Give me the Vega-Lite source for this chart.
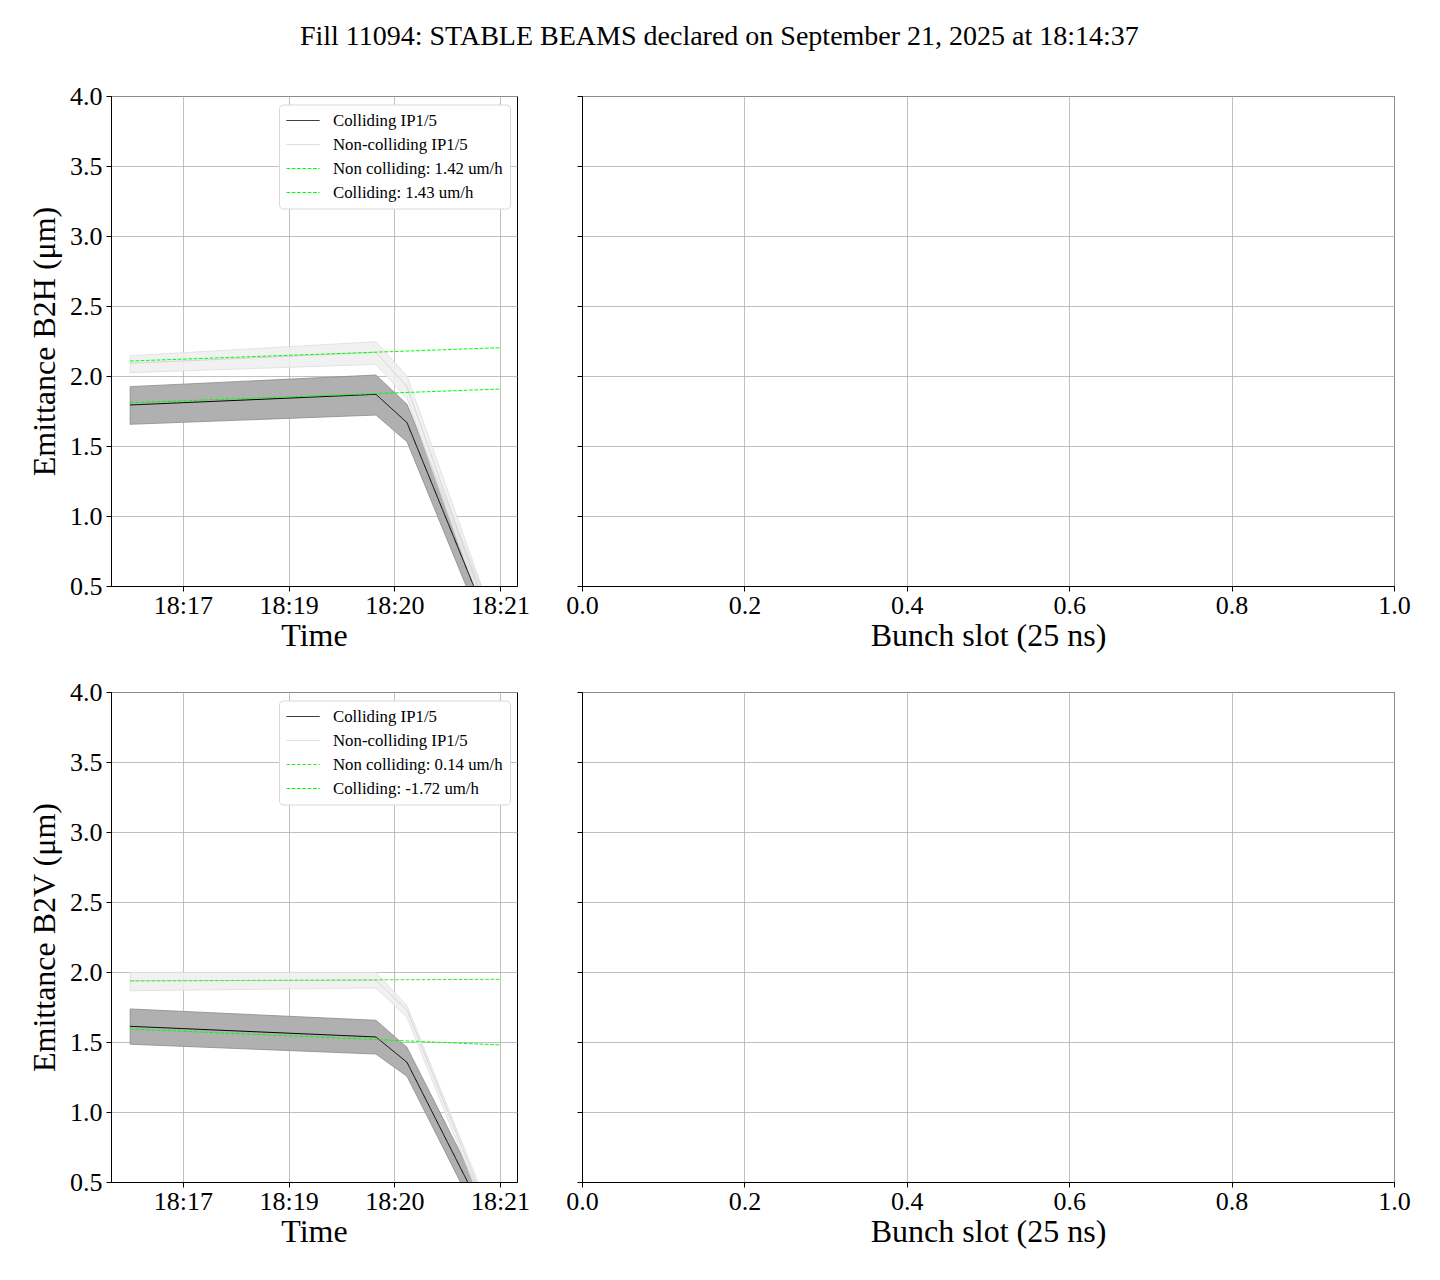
{
  "$schema": "https://vega.github.io/schema/vega-lite/v6.json",
  "background": "white",
  "padding": {"left": 28, "top": 22, "right": 20, "bottom": 10},
  "title": {"text": "Fill 11094: STABLE BEAMS declared on September 21, 2025 at 18:14:37", "font": "Liberation Serif", "fontSize": 28, "fontWeight": "normal", "color": "black", "anchor": "middle", "offset": 32},
  "config": {
    "font": "Liberation Serif",
    "view": {"stroke": "black", "strokeWidth": 1},
    "axis": {"labelFont": "Liberation Serif", "labelFontSize": 26, "labelColor": "black", "titleFont": "Liberation Serif", "titleFontSize": 32, "titleFontWeight": "normal", "titleColor": "black", "domainColor": "black", "tickColor": "black", "tickSize": 5, "gridColor": "#b0b0b0", "gridWidth": 0.8, "labelPadding": 4, "labelFlush": false},
    "legend": {"labelFont": "Liberation Serif", "labelFontSize": 16.8, "labelColor": "black", "labelLimit": 400}
  },
  "datasets": {
    "bandH": [
      {"series": "Colliding IP1/5", "t": 16.50, "lo": 1.655, "hi": 1.924},
      {"series": "Colliding IP1/5", "t": 18.826, "lo": 1.721, "hi": 2.007},
      {"series": "Colliding IP1/5", "t": 19.12, "lo": 1.531, "hi": 1.798},
      {"series": "Colliding IP1/5", "t": 20.0, "lo": -0.09, "hi": 0.17},
      {"series": "Non-colliding IP1/5", "t": 16.50, "lo": 2.024, "hi": 2.145},
      {"series": "Non-colliding IP1/5", "t": 18.826, "lo": 2.083, "hi": 2.245},
      {"series": "Non-colliding IP1/5", "t": 19.12, "lo": 1.84, "hi": 2.0},
      {"series": "Non-colliding IP1/5", "t": 20.0, "lo": -0.03, "hi": 0.13}
    ],
    "linesH": [
      {"series": "Colliding IP1/5", "t": 16.50, "v": 1.793},
      {"series": "Colliding IP1/5", "t": 18.826, "v": 1.869},
      {"series": "Colliding IP1/5", "t": 19.12, "v": 1.667},
      {"series": "Colliding IP1/5", "t": 20.0, "v": 0.04},
      {"series": "Non-colliding IP1/5", "t": 16.50, "v": 2.091},
      {"series": "Non-colliding IP1/5", "t": 18.826, "v": 2.169},
      {"series": "Non-colliding IP1/5", "t": 19.12, "v": 1.924},
      {"series": "Non-colliding IP1/5", "t": 20.0, "v": 0.05},
      {"series": "Non colliding: 1.42 um/h", "t": 16.50, "v": 2.107},
      {"series": "Non colliding: 1.42 um/h", "t": 20.0, "v": 2.202},
      {"series": "Colliding: 1.43 um/h", "t": 16.50, "v": 1.809},
      {"series": "Colliding: 1.43 um/h", "t": 20.0, "v": 1.907}
    ],
    "bandV": [
      {"series": "Colliding IP1/5", "t": 16.50, "lo": 1.484, "hi": 1.736},
      {"series": "Colliding IP1/5", "t": 18.826, "lo": 1.414, "hi": 1.655},
      {"series": "Colliding IP1/5", "t": 19.12, "lo": 1.255, "hi": 1.462},
      {"series": "Colliding IP1/5", "t": 20.0, "lo": -0.06, "hi": 0.15},
      {"series": "Non-colliding IP1/5", "t": 16.50, "lo": 1.866, "hi": 1.998},
      {"series": "Non-colliding IP1/5", "t": 18.826, "lo": 1.886, "hi": 1.998},
      {"series": "Non-colliding IP1/5", "t": 19.12, "lo": 1.676, "hi": 1.759},
      {"series": "Non-colliding IP1/5", "t": 20.0, "lo": 0.02, "hi": 0.11}
    ],
    "linesV": [
      {"series": "Colliding IP1/5", "t": 16.50, "v": 1.612},
      {"series": "Colliding IP1/5", "t": 18.826, "v": 1.536},
      {"series": "Colliding IP1/5", "t": 19.12, "v": 1.355},
      {"series": "Colliding IP1/5", "t": 20.0, "v": 0.044},
      {"series": "Non-colliding IP1/5", "t": 16.50, "v": 1.938},
      {"series": "Non-colliding IP1/5", "t": 18.826, "v": 1.94},
      {"series": "Non-colliding IP1/5", "t": 19.12, "v": 1.729},
      {"series": "Non-colliding IP1/5", "t": 20.0, "v": 0.073},
      {"series": "Non colliding: 0.14 um/h", "t": 16.50, "v": 1.936},
      {"series": "Non colliding: 0.14 um/h", "t": 20.0, "v": 1.948},
      {"series": "Colliding: -1.72 um/h", "t": 16.50, "v": 1.593},
      {"series": "Colliding: -1.72 um/h", "t": 20.0, "v": 1.479}
    ],
    "empty": []
  },
  "columns": 2,
  "spacing": {"row": 106, "column": 65},
  "bounds": "flush",
  "concat": [
    {
      "width": 406, "height": 490,
      "layer": [
        {
          "data": {"name": "bandH"},
          "transform": [{"filter": "datum.series == 'Colliding IP1/5'"}],
          "mark": {"type": "area", "clip": true, "fill": "#b0b0b0", "stroke": "#8a8a8a", "strokeWidth": 0.8},
          "encoding": {
            "x": {"field": "t", "type": "quantitative", "scale": {"domain": [16.319, 20.161], "nice": false, "zero": false}, "axis": {"title": "Time", "values": [17, 18, 19, 20], "labelExpr": "datum.value == 17 ? '18:17' : datum.value == 18 ? '18:19' : datum.value == 19 ? '18:20' : '18:21'", "grid": true, "labelPadding": 1, "titlePadding": 2}},
            "y": {"field": "lo", "type": "quantitative", "scale": {"domain": [0.5, 4.0], "nice": false, "zero": false}, "axis": {"title": "Emittance B2H (μm)", "values": [0.5, 1, 1.5, 2, 2.5, 3, 3.5, 4], "format": ".1f", "grid": true, "titlePadding": 8}},
            "y2": {"field": "hi"}
          }
        },
        {
          "data": {"name": "bandH"},
          "transform": [{"filter": "datum.series == 'Non-colliding IP1/5'"}],
          "mark": {"type": "area", "clip": true, "fill": "#eeeeee", "fillOpacity": 0.85, "stroke": "#dddddd", "strokeWidth": 0.8},
          "encoding": {
            "x": {"field": "t", "type": "quantitative"},
            "y": {"field": "lo", "type": "quantitative"},
            "y2": {"field": "hi"}
          }
        },
        {
          "data": {"name": "linesH"},
          "mark": {"type": "line", "clip": true, "strokeWidth": 1},
          "encoding": {
            "x": {"field": "t", "type": "quantitative"},
            "y": {"field": "v", "type": "quantitative"},
            "color": {"field": "series", "type": "nominal", "sort": null, "scale": {"domain": ["Colliding IP1/5", "Non-colliding IP1/5", "Non colliding: 1.42 um/h", "Colliding: 1.43 um/h"], "range": ["#000000", "#d3d3d3", "#00ff00", "#00ff00"]}, "legend": {"title": null, "orient": "none", "legendX": 168, "legendY": 8.5, "symbolType": "stroke", "symbolSize": 1089, "symbolStrokeWidth": 1, "clipHeight": 18, "rowPadding": 6, "padding": 7, "cornerRadius": 4, "strokeColor": "#d9d9d9", "fillColor": "white", "labelOffset": 13, "encode": {"symbols": {"update": {"strokeDash": {"signal": "test(/um/, datum.value) ? [3.7, 1.6] : [1, 0]"}}}}}},
            "strokeDash": {"field": "series", "type": "nominal", "sort": null, "scale": {"domain": ["Colliding IP1/5", "Non-colliding IP1/5", "Non colliding: 1.42 um/h", "Colliding: 1.43 um/h"], "range": [[1, 0], [1, 0], [3.7, 1.6], [3.7, 1.6]]}, "legend": null},
            "order": {"field": "t", "type": "quantitative"}
          }
        }
      ]
    },
    {
      "width": 812, "height": 490,
      "data": {"name": "empty"},
      "mark": {"type": "point"},
      "encoding": {
        "x": {"field": "bx", "type": "quantitative", "scale": {"domain": [0, 1], "nice": false, "zero": false}, "axis": {"title": "Bunch slot (25 ns)", "values": [0, 0.2, 0.4, 0.6, 0.8, 1.0], "format": ".1f", "grid": true, "labelPadding": 1, "titlePadding": 2}},
        "y": {"field": "by", "type": "quantitative", "scale": {"domain": [0.5, 4.0], "nice": false, "zero": false}, "axis": {"title": null, "values": [0.5, 1, 1.5, 2, 2.5, 3, 3.5, 4], "labels": false, "grid": true}}
      }
    },
    {
      "width": 406, "height": 490,
      "layer": [
        {
          "data": {"name": "bandV"},
          "transform": [{"filter": "datum.series == 'Colliding IP1/5'"}],
          "mark": {"type": "area", "clip": true, "fill": "#b0b0b0", "stroke": "#8a8a8a", "strokeWidth": 0.8},
          "encoding": {
            "x": {"field": "t", "type": "quantitative", "scale": {"domain": [16.319, 20.161], "nice": false, "zero": false}, "axis": {"title": "Time", "values": [17, 18, 19, 20], "labelExpr": "datum.value == 17 ? '18:17' : datum.value == 18 ? '18:19' : datum.value == 19 ? '18:20' : '18:21'", "grid": true, "labelPadding": 1, "titlePadding": 2}},
            "y": {"field": "lo", "type": "quantitative", "scale": {"domain": [0.5, 4.0], "nice": false, "zero": false}, "axis": {"title": "Emittance B2V (μm)", "values": [0.5, 1, 1.5, 2, 2.5, 3, 3.5, 4], "format": ".1f", "grid": true, "titlePadding": 8}},
            "y2": {"field": "hi"}
          }
        },
        {
          "data": {"name": "bandV"},
          "transform": [{"filter": "datum.series == 'Non-colliding IP1/5'"}],
          "mark": {"type": "area", "clip": true, "fill": "#eeeeee", "fillOpacity": 0.85, "stroke": "#dddddd", "strokeWidth": 0.8},
          "encoding": {
            "x": {"field": "t", "type": "quantitative"},
            "y": {"field": "lo", "type": "quantitative"},
            "y2": {"field": "hi"}
          }
        },
        {
          "data": {"name": "linesV"},
          "mark": {"type": "line", "clip": true, "strokeWidth": 1},
          "encoding": {
            "x": {"field": "t", "type": "quantitative"},
            "y": {"field": "v", "type": "quantitative"},
            "color": {"field": "series", "type": "nominal", "sort": null, "scale": {"domain": ["Colliding IP1/5", "Non-colliding IP1/5", "Non colliding: 0.14 um/h", "Colliding: -1.72 um/h"], "range": ["#000000", "#d3d3d3", "#33ee33", "#00ff00"]}, "legend": {"title": null, "orient": "none", "legendX": 168, "legendY": 8.5, "symbolType": "stroke", "symbolSize": 1089, "symbolStrokeWidth": 1, "clipHeight": 18, "rowPadding": 6, "padding": 7, "cornerRadius": 4, "strokeColor": "#d9d9d9", "fillColor": "white", "labelOffset": 13, "encode": {"symbols": {"update": {"strokeDash": {"signal": "test(/um/, datum.value) ? [3.7, 1.6] : [1, 0]"}}}}}},
            "strokeDash": {"field": "series", "type": "nominal", "sort": null, "scale": {"domain": ["Colliding IP1/5", "Non-colliding IP1/5", "Non colliding: 0.14 um/h", "Colliding: -1.72 um/h"], "range": [[1, 0], [1, 0], [3.7, 1.6], [3.7, 1.6]]}, "legend": null},
            "order": {"field": "t", "type": "quantitative"}
          }
        }
      ]
    },
    {
      "width": 812, "height": 490,
      "data": {"name": "empty"},
      "mark": {"type": "point"},
      "encoding": {
        "x": {"field": "bx", "type": "quantitative", "scale": {"domain": [0, 1], "nice": false, "zero": false}, "axis": {"title": "Bunch slot (25 ns)", "values": [0, 0.2, 0.4, 0.6, 0.8, 1.0], "format": ".1f", "grid": true, "labelPadding": 1, "titlePadding": 2}},
        "y": {"field": "by", "type": "quantitative", "scale": {"domain": [0.5, 4.0], "nice": false, "zero": false}, "axis": {"title": null, "values": [0.5, 1, 1.5, 2, 2.5, 3, 3.5, 4], "labels": false, "grid": true}}
      }
    }
  ],
  "resolve": {"scale": {"color": "independent", "strokeDash": "independent"}, "legend": {"color": "independent", "strokeDash": "independent"}}
}
